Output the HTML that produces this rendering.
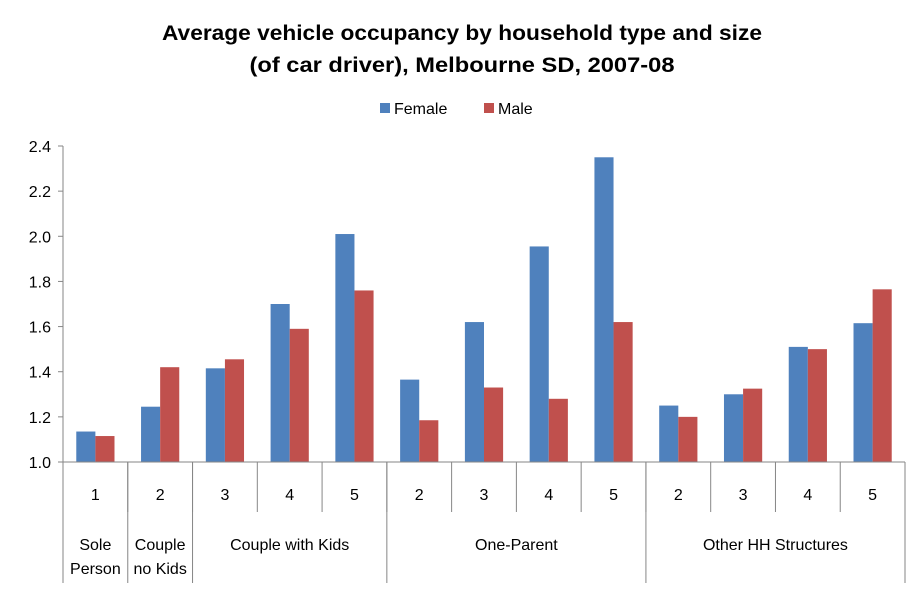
<!DOCTYPE html>
<html><head><meta charset="utf-8"><style>
body{margin:0;background:#fff;}
svg text{font-family:"Liberation Sans",sans-serif;}
</style></head><body>
<svg id="chart" width="924" height="593" viewBox="0 0 924 593" xmlns="http://www.w3.org/2000/svg">
<text x="462" y="40" text-anchor="middle" font-size="21" font-weight="bold" fill="#000" textLength="600" lengthAdjust="spacingAndGlyphs">Average vehicle occupancy by household type and size</text>
<text x="462" y="72" text-anchor="middle" font-size="21" font-weight="bold" fill="#000" textLength="425" lengthAdjust="spacingAndGlyphs">(of car driver), Melbourne SD, 2007-08</text>
<rect x="380" y="103" width="10" height="10" fill="#4f81bd"/>
<text x="394" y="114" font-size="16">Female</text>
<rect x="484" y="103" width="10" height="10" fill="#c0504d"/>
<text x="498" y="114" font-size="16">Male</text>
<g id="plot"></g>
</svg>
<script>
const sizes=["1","2","3","4","5","2","3","4","5","2","3","4","5"];
const female=[1.135,1.245,1.415,1.70,2.01,1.365,1.62,1.955,2.35,1.25,1.30,1.51,1.615];
const male=[1.115,1.42,1.455,1.59,1.76,1.185,1.33,1.28,1.62,1.20,1.325,1.50,1.765];
const groups=["Sole|Person","Couple|no Kids","Couple with Kids","One-Parent","Other HH Structures"];
const groupCounts=[1,1,3,4,4];
const yTicks=[1.0,1.2,1.4,1.6,1.8,2.0,2.2,2.4];
const NS="http://www.w3.org/2000/svg";
const g=document.getElementById('plot');
const X0=63,X1=905,Y0=462,Y1=146,vmin=1.0,vmax=2.4;
const cw=(X1-X0)/sizes.length;
function y(v){return Y0-(v-vmin)/(vmax-vmin)*(Y0-Y1);}
function x(i){return X0+i*cw;}
function mk(t,a){const e=document.createElementNS(NS,t);for(const k in a)e.setAttribute(k,a[k]);g.appendChild(e);return e;}
yTicks.forEach(v=>{
 const l=mk('line',{x1:X0-5,x2:X0,y1:y(v),y2:y(v),stroke:'#868686'});
 
 
 const t=mk('text',{x:X0-12,y:y(v)+6,'text-anchor':'end','font-size':'16'});
 t.textContent=v.toFixed(1);
 
 
});
const bw=cw*0.295;
sizes.forEach((s,i)=>{
 const cx=x(i)+cw/2;
 const bf=mk('rect',{x:cx-bw,y:y(female[i]),width:bw,height:Y0-y(female[i]),fill:'#4f81bd'});
 
 
 const bm=mk('rect',{x:cx,y:y(male[i]),width:bw,height:Y0-y(male[i]),fill:'#c0504d'});
 
 
 const t=mk('text',{x:cx,y:500,'text-anchor':'middle','font-size':'16'});
 t.textContent=s;
 
 
 if(i>0){const l=mk('line',{x1:x(i),x2:x(i),y1:Y0,y2:512,stroke:'#868686'});
 
 }
});
let start=0;
groups.forEach((gname,k)=>{
 const l=mk('line',{x1:x(start),x2:x(start),y1:Y0,y2:583,stroke:'#868686'});
 
 
 const cx=x(start+groupCounts[k]/2);
 gname.split('|').forEach((line,j)=>{
  const t=mk('text',{x:cx,y:550+j*24,'text-anchor':'middle','font-size':'16'});
  t.textContent=line;
  
  
 });
 start+=groupCounts[k];
});
const r=mk('line',{x1:X1,x2:X1,y1:Y0,y2:583,stroke:'#868686'});


const ya=mk('line',{x1:X0,x2:X0,y1:Y1,y2:Y0,stroke:'#868686'});


const xa=mk('line',{x1:X0,x2:X1,y1:Y0,y2:Y0,stroke:'#868686'});


</script>
</body></html>
